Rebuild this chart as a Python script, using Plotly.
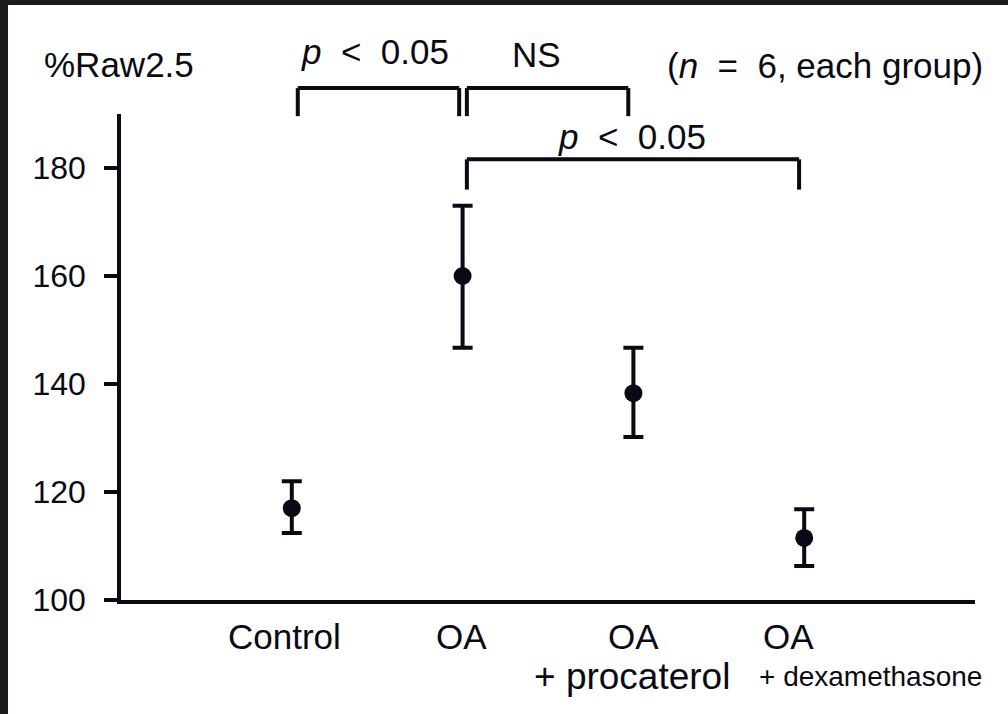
import plotly.graph_objects as go

# ---- data ----
groups = ["Control", "OA", "OA + procaterol", "OA + dexamethasone"]
means = [117.0, 160.0, 138.3, 111.5]
err_plus = [5.0, 13.0, 8.4, 5.3]
err_minus = [4.6, 13.3, 8.1, 5.2]
y_ticks = [100, 120, 140, 160, 180]
y_min, y_max = 100, 190

x_pos = list(range(len(groups)))

FONT = "Liberation Sans, Arial, Helvetica, sans-serif"
INK = "#0a0a14"

fig = go.Figure()
fig.add_trace(go.Scatter(
    x=x_pos, y=means, mode="markers",
    marker=dict(size=18, color=INK, symbol="circle"),
    error_y=dict(type="data", symmetric=False, array=err_plus, arrayminus=err_minus,
                 thickness=4, width=10, color=INK),
    showlegend=False, hoverinfo="skip",
))

def py(v):
    """convert a y data value to paper fraction (for items above the axis)"""
    return (v - y_min) / (y_max - y_min)

shapes = []
# white panel over dark textured frame
shapes.append(dict(type="rect", xref="paper", yref="paper", x0=-0.1323, x1=1.05,
                   y0=-0.26, y1=1.2243, fillcolor="white", line=dict(width=0), layer="below"))

def bracket(xa, xb, top, leg_a, leg_b):
    for (x0, y0, x1, y1) in [(xa, top, xb, top), (xa, top, xa, leg_a), (xb, top, xb, leg_b)]:
        shapes.append(dict(type="line", xref="x", yref="paper", x0=x0, x1=x1,
                           y0=py(y0), y1=py(y1), line=dict(color=INK, width=4)))

# significance brackets (x in group units, y in data units above the plot)
bracket(0.035, 0.98, 194.8, 189.6, 189.6)
bracket(1.025, 1.97, 194.8, 189.6, 189.6)
bracket(1.025, 2.97, 181.6, 176.0, 176.0)

nb = "\u00a0"
ann = []
def text(x, y, s, size=35, xref="x", yref="paper", xanchor="center"):
    ann.append(dict(x=x, y=y, xref=xref, yref=yref, text=s, showarrow=False,
                    xanchor=xanchor, yanchor="middle",
                    font=dict(family=FONT, size=size, color=INK)))

ptxt = "<i>p</i>" + nb * 2 + "&lt;" + nb * 2 + "0.05"
text(-0.002, 1.102, "%Raw2.5", xref="paper")
text(0.49, 1.128, ptxt)
text(1.43, 1.122, "NS")
text(3.12, 1.100, "(<i>n</i>" + nb + " = " + nb + "6, each group)")
text(1.99, 0.953, ptxt)

# category labels
text(-0.045, -0.076, "Control")
text(0.995, -0.076, "OA")
text(2.0, -0.076, "OA")
text(1.99, -0.158, "+" + nb + "procaterol", size=37)
text(2.91, -0.076, "OA")
text(3.39, -0.158, "+ dexamethasone", size=28)

fig.update_layout(
    width=1008, height=714,
    margin=dict(l=121, r=33, t=114, b=114),
    paper_bgcolor="#1b1b1b", plot_bgcolor="white",
    shapes=shapes, annotations=ann,
    font=dict(family=FONT, color=INK),
    xaxis=dict(range=[-1, 4], showline=True, linewidth=4, linecolor=INK,
               showgrid=False, zeroline=False, ticks="", showticklabels=False,
               fixedrange=True),
    yaxis=dict(range=[y_min, y_max], tickvals=y_ticks, showline=True, linewidth=3.5,
               linecolor=INK, showgrid=False, zeroline=False, ticks="outside",
               ticklen=13, tickwidth=3.5, tickcolor=INK, ticklabelstandoff=12,
               tickfont=dict(family=FONT, size=32, color=INK), fixedrange=True),
)

fig.write_html("out.html", config={"displayModeBar": False},
               post_script="document.body.style.margin='0px';document.body.style.background='#1b1b1b';")
